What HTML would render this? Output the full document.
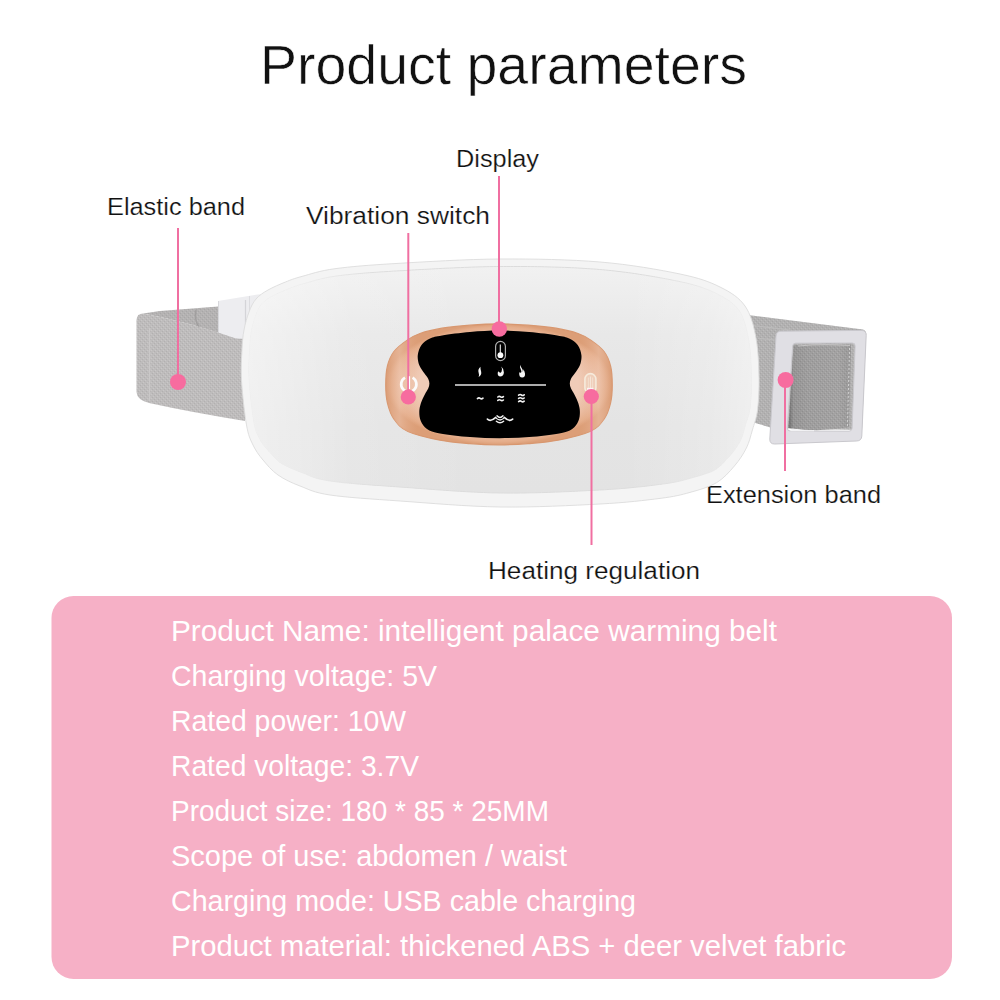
<!DOCTYPE html>
<html><head><meta charset="utf-8">
<style>
html,body{margin:0;padding:0;background:#fff;width:1000px;height:1000px;overflow:hidden}
svg{display:block}
text{font-family:"Liberation Sans",sans-serif}
</style></head><body>
<svg width="1000" height="1000" viewBox="0 0 1000 1000">
<defs>
  <linearGradient id="faceG" x1="0" y1="0" x2="0" y2="1">
    <stop offset="0" stop-color="#f1f1f1"/>
    <stop offset="0.3" stop-color="#e8e8e8"/>
    <stop offset="0.7" stop-color="#e4e4e4"/>
    <stop offset="1" stop-color="#e3e3e3"/>
  </linearGradient>
  <linearGradient id="rimS" x1="0" y1="0" x2="1" y2="0">
    <stop offset="0" stop-color="#dcdcdc" stop-opacity="0.15"/>
    <stop offset="0.1" stop-color="#dcdcdc" stop-opacity="0.25"/>
    <stop offset="0.25" stop-color="#dcdcdc" stop-opacity="1"/>
    <stop offset="0.8" stop-color="#dcdcdc" stop-opacity="1"/>
    <stop offset="0.93" stop-color="#dcdcdc" stop-opacity="0.3"/>
    <stop offset="1" stop-color="#dcdcdc" stop-opacity="0.2"/>
  </linearGradient>
  <linearGradient id="faceH" x1="0" y1="0" x2="1" y2="0">
    <stop offset="0" stop-color="#fff" stop-opacity="0.45"/>
    <stop offset="0.2" stop-color="#fff" stop-opacity="0.12"/>
    <stop offset="0.45" stop-color="#fff" stop-opacity="0"/>
    <stop offset="0.75" stop-color="#fff" stop-opacity="0"/>
    <stop offset="0.92" stop-color="#fff" stop-opacity="0.2"/>
    <stop offset="1" stop-color="#fff" stop-opacity="0.4"/>
  </linearGradient>
  <radialGradient id="copperG" cx="0.5" cy="0.5" r="0.5">
    <stop offset="0.7" stop-color="#f0ccb8"/>
    <stop offset="0.84" stop-color="#ebbea4"/>
    <stop offset="0.95" stop-color="#e5ad8a"/>
    <stop offset="1" stop-color="#dc9e77"/>
  </radialGradient>
  <linearGradient id="copperH" x1="0" y1="0" x2="1" y2="0">
    <stop offset="0" stop-color="#d99b74" stop-opacity="0.5"/>
    <stop offset="0.06" stop-color="#f3d2c0" stop-opacity="0.4"/>
    <stop offset="0.14" stop-color="#e8b496" stop-opacity="0"/>
    <stop offset="0.86" stop-color="#e8b496" stop-opacity="0"/>
    <stop offset="0.94" stop-color="#f3d2c0" stop-opacity="0.4"/>
    <stop offset="1" stop-color="#d99b74" stop-opacity="0.5"/>
  </linearGradient>
  <pattern id="knit" width="4" height="4" patternUnits="userSpaceOnUse">
    <rect width="4" height="4" fill="#bebcbc"/>
    <rect x="0" y="1" width="1" height="1" fill="#b2b0b0"/>
    <rect x="2" y="3" width="1" height="1" fill="#b2b0b0"/>
    <rect x="1" y="0" width="1" height="1" fill="#c9c7c7"/>
    <rect x="3" y="2" width="1" height="1" fill="#c9c7c7"/>
  </pattern>
  <pattern id="knit2" width="4" height="4" patternUnits="userSpaceOnUse">
    <rect width="4" height="4" fill="#aaa9a9"/>
    <rect x="0" y="1" width="1" height="1" fill="#9d9c9c"/>
    <rect x="2" y="3" width="1" height="1" fill="#9d9c9c"/>
    <rect x="1" y="0" width="1" height="1" fill="#b7b6b6"/>
    <rect x="3" y="2" width="1" height="1" fill="#b7b6b6"/>
  </pattern>
</defs>
<rect width="1000" height="1000" fill="#fff"/>

<!-- title -->
<text x="260" y="84" font-size="56" fill="#111" stroke="#fff" stroke-width="0.6" textLength="487" lengthAdjust="spacingAndGlyphs">Product parameters</text>

<!-- labels -->
<g fill="#111" font-size="24.7" stroke="#fff" stroke-width="0.2">
<text x="107" y="215" textLength="138" lengthAdjust="spacingAndGlyphs">Elastic band</text>
<text x="456" y="167" textLength="83" lengthAdjust="spacingAndGlyphs">Display</text>
<text x="306" y="223.5" textLength="184" lengthAdjust="spacingAndGlyphs">Vibration switch</text>
<text x="706" y="502.6" textLength="175" lengthAdjust="spacingAndGlyphs">Extension band</text>
<text x="488" y="578.6" textLength="212" lengthAdjust="spacingAndGlyphs">Heating regulation</text>
</g>

<!-- left band back -->
<path d="M143,313.6 L160,311 L231,305.5 L243,306 L245,342 Q190,322 143,313.6 Z" fill="url(#knit)"/>
<path d="M143,313.6 L160,311 L231,305.5 L243,306 L245,342 Q190,322 143,313.6 Z" fill="#000" fill-opacity="0.05"/>
<path d="M196,310 Q194,320 199,327" stroke="#a19f9f" stroke-width="1.5" fill="none"/>
<!-- left clip -->
<path d="M218,301 L257.8,294.4 L275,293 L275,340 L218,338 Z" fill="#ededf0"/>
<line x1="218.5" y1="301" x2="218.5" y2="338" stroke="#d8d8dc" stroke-width="1"/>
<line x1="245.5" y1="300" x2="245.5" y2="340" stroke="#d4d4d8" stroke-width="1.2"/>
<line x1="249.5" y1="296" x2="249.5" y2="340" stroke="#dcdce0" stroke-width="1"/>
<!-- left band front -->
<path d="M143,313.6 Q190,322 245,341.6 L245,421 Q190,412 149,403 Q137,400 136.5,392 L136.5,320 Q137,313.6 143,313.6 Z" fill="url(#knit)"/>
<line x1="149.5" y1="328" x2="149.5" y2="401" stroke="#cac8c8" stroke-width="1.5"/>

<!-- right band -->
<path d="M749.6,315.2 L863,329.6 Q867,331 866,336 L862,430 L772,428 L752,422 Z" fill="url(#knit2)"/>
<path d="M749.6,315.2 L863,329.6 Q867,331 866,336 L862,430 L772,428 L752,422 Z" fill="#fff" fill-opacity="0.1"/>
<line x1="752" y1="325.5" x2="790" y2="330" stroke="#bcbbbb" stroke-width="1.2"/>
<line x1="758" y1="338.4" x2="776" y2="340" stroke="#bcbbbb" stroke-width="1.2"/>

<!-- body -->
<path d="M241.5,380.0 C240.8,367.5 241.6,358.3 242.0,350.0 C242.4,341.7 242.8,336.3 244.0,330.0 C245.2,323.7 247.0,317.2 249.0,312.0 C251.0,306.8 252.8,302.7 256.0,299.0 C259.2,295.3 263.1,292.8 268.0,290.0 C272.9,287.2 279.8,284.3 285.5,282.0 C291.2,279.7 293.8,278.6 302.0,276.4 C310.2,274.2 319.3,270.8 335.0,268.7 C350.7,266.6 368.5,265.1 396.0,263.5 C423.5,261.9 466.0,259.2 500.0,259.0 C534.0,258.8 570.0,259.5 600.0,262.0 C630.0,264.5 660.0,269.8 680.0,274.0 C700.0,278.2 709.2,281.7 720.0,287.0 C730.8,292.3 739.0,297.5 745.0,306.0 C751.0,314.5 753.7,326.0 756.0,338.0 C758.3,350.0 758.8,366.0 759.0,378.0 C759.2,390.0 758.6,401.3 757.5,410.0 C756.4,418.7 754.2,423.7 752.4,430.0 C750.5,436.3 749.4,442.0 746.4,448.0 C743.4,454.0 739.4,460.2 734.4,466.0 C729.4,471.8 723.8,478.4 716.4,482.8 C709.0,487.2 699.4,489.8 690.0,492.4 C680.6,495.0 675.0,496.5 660.0,498.4 C645.0,500.3 626.7,502.6 600.0,504.0 C573.3,505.4 533.3,507.5 500.0,507.0 C466.7,506.5 428.3,503.0 400.0,501.0 C371.7,499.0 346.7,497.5 330.0,495.0 C313.3,492.5 308.7,489.3 300.0,486.0 C291.3,482.7 284.2,479.3 278.0,475.0 C271.8,470.7 267.2,465.0 263.0,460.0 C258.8,455.0 255.8,450.8 253.0,445.0 C250.2,439.2 248.4,435.8 246.5,425.0 C244.6,414.2 242.2,392.5 241.5,380.0Z" fill="#f4f4f4" stroke="#dddddd" stroke-width="0.9"/>
<path d="M249.0,379.6 L248.9,378.4 L248.9,377.2 L248.8,376.1 L248.8,374.9 L248.7,373.8 L248.7,372.7 L248.7,371.7 L248.7,370.6 L248.7,369.6 L248.7,368.6 L248.7,367.6 L248.7,366.6 L248.8,365.6 L248.8,364.6 L248.8,363.7 L248.8,362.8 L248.9,361.8 L248.9,360.9 L249.0,360.0 L249.0,359.1 L249.1,358.2 L249.1,357.3 L249.2,356.4 L249.2,355.5 L249.3,354.7 L249.3,353.8 L249.4,352.9 L249.4,352.1 L249.4,351.2 L249.5,350.4 L249.5,349.6 L249.6,348.8 L249.6,348.0 L249.7,347.2 L249.7,346.5 L249.7,345.8 L249.8,345.1 L249.8,344.4 L249.9,343.7 L249.9,343.1 L250.0,342.4 L250.0,341.8 L250.1,341.2 L250.1,340.6 L250.2,340.0 L250.2,339.4 L250.3,338.8 L250.4,338.2 L250.4,337.6 L250.5,337.1 L250.6,336.5 L250.6,335.9 L250.7,335.4 L250.8,334.8 L250.9,334.2 L251.0,333.7 L251.1,333.1 L251.2,332.5 L251.3,331.9 L251.4,331.4 L251.5,330.8 L251.6,330.2 L251.7,329.6 L251.8,329.0 L252.0,328.4 L252.1,327.8 L252.2,327.2 L252.4,326.6 L252.5,326.1 L252.7,325.5 L252.8,324.9 L252.9,324.3 L253.1,323.7 L253.3,323.1 L253.4,322.6 L253.6,322.0 L253.7,321.4 L253.9,320.9 L254.1,320.3 L254.2,319.8 L254.4,319.2 L254.6,318.7 L254.8,318.2 L254.9,317.7 L255.1,317.1 L255.3,316.6 L255.5,316.1 L255.6,315.7 L255.8,315.2 L256.0,314.7 L256.2,314.2 L256.4,313.7 L256.6,313.3 L256.7,312.8 L256.9,312.3 L257.1,311.9 L257.3,311.5 L257.5,311.0 L257.7,310.6 L257.8,310.2 L258.0,309.8 L258.2,309.5 L258.4,309.1 L258.6,308.7 L258.7,308.4 L258.9,308.0 L259.1,307.7 L259.3,307.4 L259.5,307.0 L259.6,306.7 L259.8,306.4 L260.0,306.1 L260.2,305.8 L260.4,305.5 L260.6,305.3 L260.8,305.0 L261.0,304.7 L261.2,304.4 L261.5,304.2 L261.7,303.9 L261.9,303.6 L262.1,303.4 L262.4,303.1 L262.6,302.9 L262.9,302.6 L263.1,302.4 L263.4,302.2 L263.7,301.9 L263.9,301.7 L264.2,301.4 L264.5,301.2 L264.8,301.0 L265.1,300.7 L265.4,300.5 L265.7,300.3 L266.1,300.0 L266.4,299.8 L266.8,299.6 L267.1,299.3 L267.5,299.1 L267.9,298.8 L268.3,298.6 L268.7,298.3 L269.1,298.1 L269.5,297.8 L269.9,297.6 L270.4,297.3 L270.8,297.0 L271.3,296.8 L271.7,296.5 L272.2,296.3 L272.6,296.0 L273.1,295.8 L273.6,295.5 L274.1,295.2 L274.6,295.0 L275.1,294.7 L275.6,294.5 L276.1,294.2 L276.7,293.9 L277.2,293.7 L277.8,293.4 L278.4,293.2 L278.9,292.9 L279.5,292.6 L280.1,292.4 L280.7,292.1 L281.3,291.9 L281.9,291.6 L282.5,291.4 L283.1,291.1 L283.7,290.9 L284.2,290.6 L284.8,290.4 L285.4,290.1 L286.0,289.9 L286.6,289.6 L287.2,289.4 L287.7,289.2 L288.3,289.0 L288.8,288.7 L289.4,288.5 L289.9,288.3 L290.4,288.1 L290.9,287.9 L291.4,287.7 L291.8,287.6 L292.3,287.4 L292.7,287.2 L293.1,287.0 L293.6,286.9 L294.0,286.7 L294.4,286.6 L294.8,286.4 L295.3,286.3 L295.7,286.1 L296.2,285.9 L296.6,285.8 L297.1,285.6 L297.6,285.5 L298.1,285.3 L298.6,285.2 L299.2,285.0 L299.8,284.8 L300.4,284.6 L301.0,284.4 L301.7,284.3 L302.4,284.1 L303.2,283.9 L304.0,283.6 L304.8,283.4 L305.7,283.2 L306.6,282.9 L307.4,282.7 L308.3,282.4 L309.2,282.2 L310.1,281.9 L311.0,281.6 L311.9,281.4 L312.8,281.1 L313.7,280.8 L314.7,280.6 L315.6,280.3 L316.6,280.0 L317.6,279.8 L318.6,279.5 L319.7,279.3 L320.7,279.0 L321.8,278.7 L323.0,278.5 L324.1,278.2 L325.3,278.0 L326.5,277.7 L327.7,277.5 L329.0,277.2 L330.3,277.0 L331.7,276.8 L333.1,276.6 L334.5,276.3 L336.0,276.1 L337.6,275.9 L339.1,275.7 L340.7,275.5 L342.3,275.3 L343.9,275.1 L345.6,274.9 L347.2,274.8 L348.9,274.6 L350.6,274.4 L352.4,274.2 L354.2,274.0 L356.0,273.9 L357.9,273.7 L359.8,273.5 L361.7,273.4 L363.7,273.2 L365.7,273.0 L367.7,272.9 L369.8,272.7 L372.0,272.6 L374.2,272.4 L376.4,272.3 L378.7,272.1 L381.1,271.9 L383.5,271.8 L386.0,271.6 L388.5,271.5 L391.1,271.3 L393.7,271.1 L396.4,271.0 L399.2,270.8 L402.1,270.7 L405.1,270.5 L408.2,270.3 L411.3,270.1 L414.5,269.9 L417.8,269.7 L421.2,269.5 L424.6,269.4 L428.0,269.2 L431.5,269.0 L435.1,268.8 L438.7,268.6 L442.3,268.4 L445.9,268.2 L449.6,268.1 L453.3,267.9 L457.0,267.7 L460.6,267.6 L464.3,267.4 L468.0,267.3 L471.7,267.1 L475.4,267.0 L479.0,266.9 L482.6,266.8 L486.2,266.7 L489.7,266.6 L493.2,266.6 L496.7,266.5 L500.1,266.5 L503.4,266.5 L506.8,266.5 L510.3,266.5 L513.7,266.5 L517.1,266.5 L520.5,266.5 L524.0,266.5 L527.4,266.5 L530.8,266.6 L534.3,266.6 L537.7,266.7 L541.1,266.7 L544.5,266.8 L547.9,266.9 L551.3,267.0 L554.7,267.1 L558.0,267.2 L561.4,267.3 L564.7,267.4 L568.0,267.5 L571.3,267.7 L574.5,267.8 L577.7,268.0 L580.9,268.2 L584.1,268.4 L587.2,268.6 L590.3,268.8 L593.4,269.0 L596.4,269.2 L599.4,269.5 L602.3,269.7 L605.3,270.0 L608.2,270.3 L611.2,270.6 L614.1,270.9 L617.0,271.3 L620.0,271.6 L622.9,272.0 L625.7,272.3 L628.6,272.7 L631.5,273.1 L634.3,273.5 L637.1,273.9 L639.8,274.4 L642.6,274.8 L645.3,275.2 L648.0,275.7 L650.6,276.1 L653.2,276.5 L655.7,277.0 L658.2,277.4 L660.7,277.9 L663.1,278.3 L665.5,278.8 L667.8,279.2 L670.0,279.6 L672.2,280.1 L674.4,280.5 L676.5,280.9 L678.5,281.3 L680.4,281.7 L682.2,282.2 L684.0,282.5 L685.8,282.9 L687.4,283.3 L689.0,283.7 L690.5,284.1 L692.0,284.5 L693.4,284.9 L694.8,285.3 L696.1,285.6 L697.4,286.0 L698.7,286.4 L699.9,286.8 L701.1,287.2 L702.2,287.6 L703.3,288.0 L704.4,288.4 L705.5,288.8 L706.5,289.2 L707.5,289.6 L708.6,290.0 L709.6,290.4 L710.6,290.9 L711.6,291.3 L712.6,291.8 L713.6,292.2 L714.6,292.7 L715.6,293.2 L716.7,293.7 L717.7,294.2 L718.7,294.8 L719.7,295.3 L720.7,295.8 L721.6,296.3 L722.6,296.8 L723.5,297.3 L724.3,297.8 L725.2,298.3 L726.0,298.8 L726.8,299.3 L727.6,299.8 L728.4,300.3 L729.2,300.8 L729.9,301.4 L730.6,301.9 L731.3,302.4 L732.0,303.0 L732.6,303.5 L733.3,304.1 L733.9,304.7 L734.5,305.2 L735.1,305.8 L735.7,306.4 L736.2,307.0 L736.8,307.7 L737.3,308.3 L737.9,309.0 L738.4,309.6 L738.9,310.3 L739.3,311.0 L739.8,311.7 L740.2,312.5 L740.7,313.2 L741.1,314.0 L741.5,314.8 L741.9,315.6 L742.3,316.5 L742.7,317.3 L743.0,318.2 L743.4,319.1 L743.7,320.0 L744.1,321.0 L744.4,322.0 L744.7,322.9 L745.0,323.9 L745.3,325.0 L745.6,326.0 L745.9,327.0 L746.2,328.1 L746.4,329.2 L746.7,330.3 L747.0,331.4 L747.2,332.5 L747.5,333.6 L747.7,334.8 L747.9,335.9 L748.2,337.1 L748.4,338.3 L748.6,339.4 L748.8,340.5 L749.0,341.7 L749.2,342.9 L749.4,344.1 L749.6,345.3 L749.7,346.5 L749.9,347.8 L750.0,349.1 L750.2,350.4 L750.3,351.7 L750.4,353.0 L750.5,354.4 L750.6,355.7 L750.7,357.1 L750.8,358.5 L750.9,359.8 L750.9,361.2 L751.0,362.5 L751.1,363.9 L751.1,365.3 L751.2,366.6 L751.2,368.0 L751.3,369.3 L751.3,370.6 L751.4,371.9 L751.4,373.2 L751.4,374.5 L751.4,375.7 L751.5,376.9 L751.5,378.1 L751.5,379.3 L751.5,380.5 L751.5,381.6 L751.6,382.8 L751.6,383.9 L751.5,385.0 L751.5,386.2 L751.5,387.3 L751.5,388.4 L751.5,389.5 L751.4,390.6 L751.4,391.7 L751.4,392.8 L751.3,393.8 L751.2,394.9 L751.2,395.9 L751.1,397.0 L751.1,398.0 L751.0,399.0 L750.9,400.0 L750.8,400.9 L750.8,401.9 L750.7,402.9 L750.6,403.8 L750.5,404.7 L750.4,405.6 L750.3,406.5 L750.2,407.4 L750.1,408.2 L750.0,409.0 L749.8,409.8 L749.7,410.5 L749.6,411.3 L749.4,412.0 L749.3,412.6 L749.1,413.3 L749.0,413.9 L748.8,414.6 L748.6,415.2 L748.5,415.8 L748.3,416.4 L748.1,416.9 L747.9,417.5 L747.7,418.1 L747.5,418.6 L747.4,419.2 L747.2,419.8 L747.0,420.3 L746.8,420.9 L746.6,421.5 L746.4,422.1 L746.2,422.7 L746.0,423.3 L745.8,423.9 L745.6,424.5 L745.4,425.1 L745.3,425.7 L745.1,426.4 L744.9,427.1 L744.7,427.8 L744.5,428.4 L744.4,429.1 L744.2,429.7 L744.0,430.4 L743.8,431.0 L743.7,431.6 L743.5,432.2 L743.3,432.8 L743.2,433.4 L743.0,434.0 L742.8,434.6 L742.7,435.2 L742.5,435.7 L742.3,436.3 L742.1,436.8 L741.9,437.3 L741.7,437.9 L741.5,438.4 L741.3,438.9 L741.1,439.4 L740.9,439.9 L740.7,440.4 L740.4,440.8 L740.2,441.3 L739.9,441.8 L739.7,442.2 L739.4,442.7 L739.1,443.2 L738.8,443.6 L738.5,444.1 L738.2,444.6 L737.9,445.1 L737.6,445.6 L737.3,446.1 L736.9,446.7 L736.6,447.2 L736.2,447.7 L735.9,448.2 L735.5,448.7 L735.2,449.3 L734.8,449.8 L734.4,450.3 L734.0,450.8 L733.6,451.3 L733.2,451.8 L732.8,452.4 L732.4,452.9 L732.0,453.4 L731.6,453.9 L731.2,454.4 L730.7,454.9 L730.3,455.4 L729.9,455.9 L729.4,456.4 L729.0,456.9 L728.5,457.4 L728.0,457.9 L727.6,458.3 L727.1,458.8 L726.6,459.3 L726.1,459.9 L725.6,460.5 L725.1,461.0 L724.6,461.6 L724.1,462.2 L723.6,462.7 L723.0,463.3 L722.5,463.8 L722.0,464.3 L721.4,464.8 L720.9,465.4 L720.4,465.9 L719.8,466.3 L719.3,466.8 L718.7,467.3 L718.2,467.7 L717.6,468.1 L717.0,468.6 L716.5,469.0 L715.9,469.4 L715.3,469.7 L714.7,470.1 L714.2,470.4 L713.6,470.7 L713.0,471.0 L712.4,471.3 L711.8,471.6 L711.3,471.8 L710.7,472.0 L710.1,472.2 L709.5,472.4 L708.9,472.7 L708.3,472.9 L707.7,473.1 L707.0,473.3 L706.4,473.5 L705.7,473.8 L705.0,474.0 L704.3,474.2 L703.5,474.5 L702.8,474.7 L702.0,474.9 L701.3,475.2 L700.5,475.4 L699.7,475.7 L698.9,475.9 L698.0,476.1 L697.2,476.4 L696.3,476.6 L695.5,476.9 L694.6,477.1 L693.7,477.3 L692.8,477.6 L691.9,477.8 L691.0,478.1 L690.1,478.3 L689.2,478.6 L688.3,478.8 L687.3,479.1 L686.4,479.4 L685.5,479.6 L684.6,479.8 L683.7,480.1 L682.9,480.3 L682.1,480.5 L681.3,480.7 L680.5,480.9 L679.7,481.1 L678.9,481.3 L678.2,481.4 L677.4,481.6 L676.6,481.8 L675.9,481.9 L675.1,482.1 L674.3,482.2 L673.5,482.4 L672.6,482.5 L671.8,482.7 L670.9,482.8 L670.0,483.0 L669.0,483.1 L668.0,483.3 L667.0,483.4 L665.9,483.6 L664.7,483.8 L663.5,483.9 L662.3,484.1 L661.0,484.3 L659.6,484.4 L658.2,484.6 L656.7,484.8 L655.2,485.0 L653.7,485.2 L652.1,485.4 L650.5,485.6 L648.9,485.8 L647.2,486.0 L645.6,486.2 L643.9,486.4 L642.1,486.6 L640.4,486.8 L638.6,486.9 L636.8,487.1 L634.9,487.3 L633.0,487.5 L631.0,487.7 L629.1,487.9 L627.1,488.1 L625.0,488.3 L622.9,488.4 L620.7,488.6 L618.6,488.8 L616.3,489.0 L614.0,489.1 L611.7,489.3 L609.3,489.4 L606.9,489.6 L604.4,489.8 L601.8,489.9 L599.2,490.0 L596.5,490.2 L593.8,490.3 L590.9,490.5 L587.9,490.6 L584.9,490.8 L581.9,490.9 L578.7,491.1 L575.5,491.3 L572.3,491.4 L569.0,491.6 L565.7,491.7 L562.3,491.8 L558.9,492.0 L555.5,492.1 L552.0,492.2 L548.5,492.4 L545.0,492.5 L541.5,492.6 L538.0,492.7 L534.5,492.8 L531.0,492.8 L527.5,492.9 L524.0,493.0 L520.5,493.0 L517.0,493.1 L513.6,493.1 L510.2,493.1 L506.8,493.1 L503.5,493.0 L500.2,493.0 L496.9,492.9 L493.6,492.9 L490.3,492.8 L486.9,492.7 L483.5,492.5 L480.1,492.4 L476.7,492.2 L473.3,492.1 L469.8,491.9 L466.4,491.7 L462.9,491.5 L459.4,491.3 L456.0,491.1 L452.5,490.9 L449.1,490.6 L445.7,490.4 L442.2,490.1 L438.9,489.9 L435.5,489.7 L432.2,489.4 L428.8,489.2 L425.6,488.9 L422.3,488.7 L419.1,488.4 L416.0,488.2 L412.9,487.9 L409.8,487.7 L406.8,487.5 L403.9,487.3 L401.0,487.1 L398.2,486.9 L395.3,486.7 L392.6,486.5 L389.8,486.3 L387.1,486.1 L384.4,485.9 L381.7,485.7 L379.1,485.5 L376.5,485.4 L374.0,485.2 L371.4,485.0 L369.0,484.8 L366.5,484.6 L364.1,484.5 L361.7,484.3 L359.4,484.1 L357.1,483.9 L354.9,483.7 L352.7,483.5 L350.5,483.3 L348.4,483.1 L346.4,482.9 L344.4,482.8 L342.5,482.6 L340.6,482.3 L338.8,482.1 L337.0,481.9 L335.3,481.7 L333.6,481.5 L332.1,481.3 L330.6,481.1 L329.1,480.9 L327.8,480.7 L326.6,480.5 L325.4,480.2 L324.2,480.0 L323.2,479.8 L322.2,479.6 L321.2,479.4 L320.3,479.2 L319.5,479.1 L318.7,478.9 L317.9,478.7 L317.1,478.5 L316.4,478.3 L315.7,478.1 L315.0,477.9 L314.3,477.6 L313.6,477.4 L312.9,477.1 L312.1,476.9 L311.4,476.6 L310.7,476.3 L309.9,476.0 L309.1,475.6 L308.3,475.3 L307.5,474.9 L306.6,474.5 L305.7,474.1 L304.8,473.7 L303.9,473.4 L303.1,473.1 L302.3,472.8 L301.5,472.5 L300.8,472.2 L300.0,472.0 L299.2,471.7 L298.5,471.4 L297.8,471.1 L297.1,470.8 L296.4,470.6 L295.7,470.3 L295.0,470.0 L294.3,469.7 L293.7,469.4 L293.0,469.2 L292.4,468.9 L291.8,468.6 L291.1,468.4 L290.5,468.1 L289.9,467.8 L289.3,467.5 L288.7,467.3 L288.2,467.0 L287.6,466.7 L287.0,466.4 L286.5,466.2 L285.9,465.9 L285.4,465.6 L284.8,465.3 L284.3,465.1 L283.8,464.8 L283.3,464.6 L282.8,464.3 L282.3,464.0 L281.8,463.7 L281.3,463.4 L280.8,463.1 L280.3,462.7 L279.8,462.4 L279.3,462.0 L278.8,461.6 L278.4,461.2 L277.9,460.9 L277.4,460.4 L277.0,460.0 L276.5,459.6 L276.0,459.2 L275.6,458.7 L275.1,458.3 L274.7,457.8 L274.2,457.4 L273.8,456.9 L273.4,456.4 L272.9,456.0 L272.5,455.5 L272.1,455.0 L271.6,454.5 L271.2,454.0 L270.8,453.5 L270.4,453.0 L270.0,452.6 L269.6,452.1 L269.2,451.7 L268.8,451.3 L268.5,450.9 L268.1,450.5 L267.7,450.1 L267.4,449.7 L267.0,449.3 L266.7,448.9 L266.4,448.5 L266.0,448.2 L265.7,447.8 L265.4,447.4 L265.0,447.0 L264.7,446.7 L264.4,446.3 L264.1,445.9 L263.8,445.5 L263.5,445.2 L263.2,444.8 L262.9,444.4 L262.6,444.0 L262.3,443.5 L262.0,443.1 L261.7,442.7 L261.4,442.2 L261.1,441.8 L260.9,441.3 L260.6,440.7 L260.3,440.1 L260.1,439.6 L259.8,439.1 L259.5,438.6 L259.3,438.1 L259.1,437.6 L258.8,437.2 L258.6,436.7 L258.3,436.3 L258.1,435.9 L257.9,435.4 L257.6,435.0 L257.4,434.6 L257.2,434.1 L257.0,433.6 L256.8,433.1 L256.5,432.6 L256.3,432.1 L256.1,431.5 L255.9,430.9 L255.7,430.3 L255.5,429.6 L255.3,428.9 L255.1,428.1 L254.9,427.3 L254.7,426.5 L254.5,425.6 L254.3,424.7 L254.1,423.7 L253.9,422.6 L253.7,421.5 L253.5,420.3 L253.3,419.0 L253.1,417.7 L252.9,416.3 L252.7,414.9 L252.5,413.4 L252.3,411.9 L252.1,410.4 L251.9,408.8 L251.7,407.2 L251.5,405.6 L251.3,403.9 L251.1,402.3 L250.9,400.6 L250.7,399.0 L250.6,397.4 L250.4,395.7 L250.2,394.1 L250.1,392.5 L249.9,390.9 L249.8,389.3 L249.6,387.8 L249.5,386.3 L249.4,384.9 L249.3,383.4 L249.2,382.1 L249.1,380.8Z" fill="url(#faceG)" stroke="url(#rimS)" stroke-width="1"/>
<path d="M249.0,379.6 L248.9,378.4 L248.9,377.2 L248.8,376.1 L248.8,374.9 L248.7,373.8 L248.7,372.7 L248.7,371.7 L248.7,370.6 L248.7,369.6 L248.7,368.6 L248.7,367.6 L248.7,366.6 L248.8,365.6 L248.8,364.6 L248.8,363.7 L248.8,362.8 L248.9,361.8 L248.9,360.9 L249.0,360.0 L249.0,359.1 L249.1,358.2 L249.1,357.3 L249.2,356.4 L249.2,355.5 L249.3,354.7 L249.3,353.8 L249.4,352.9 L249.4,352.1 L249.4,351.2 L249.5,350.4 L249.5,349.6 L249.6,348.8 L249.6,348.0 L249.7,347.2 L249.7,346.5 L249.7,345.8 L249.8,345.1 L249.8,344.4 L249.9,343.7 L249.9,343.1 L250.0,342.4 L250.0,341.8 L250.1,341.2 L250.1,340.6 L250.2,340.0 L250.2,339.4 L250.3,338.8 L250.4,338.2 L250.4,337.6 L250.5,337.1 L250.6,336.5 L250.6,335.9 L250.7,335.4 L250.8,334.8 L250.9,334.2 L251.0,333.7 L251.1,333.1 L251.2,332.5 L251.3,331.9 L251.4,331.4 L251.5,330.8 L251.6,330.2 L251.7,329.6 L251.8,329.0 L252.0,328.4 L252.1,327.8 L252.2,327.2 L252.4,326.6 L252.5,326.1 L252.7,325.5 L252.8,324.9 L252.9,324.3 L253.1,323.7 L253.3,323.1 L253.4,322.6 L253.6,322.0 L253.7,321.4 L253.9,320.9 L254.1,320.3 L254.2,319.8 L254.4,319.2 L254.6,318.7 L254.8,318.2 L254.9,317.7 L255.1,317.1 L255.3,316.6 L255.5,316.1 L255.6,315.7 L255.8,315.2 L256.0,314.7 L256.2,314.2 L256.4,313.7 L256.6,313.3 L256.7,312.8 L256.9,312.3 L257.1,311.9 L257.3,311.5 L257.5,311.0 L257.7,310.6 L257.8,310.2 L258.0,309.8 L258.2,309.5 L258.4,309.1 L258.6,308.7 L258.7,308.4 L258.9,308.0 L259.1,307.7 L259.3,307.4 L259.5,307.0 L259.6,306.7 L259.8,306.4 L260.0,306.1 L260.2,305.8 L260.4,305.5 L260.6,305.3 L260.8,305.0 L261.0,304.7 L261.2,304.4 L261.5,304.2 L261.7,303.9 L261.9,303.6 L262.1,303.4 L262.4,303.1 L262.6,302.9 L262.9,302.6 L263.1,302.4 L263.4,302.2 L263.7,301.9 L263.9,301.7 L264.2,301.4 L264.5,301.2 L264.8,301.0 L265.1,300.7 L265.4,300.5 L265.7,300.3 L266.1,300.0 L266.4,299.8 L266.8,299.6 L267.1,299.3 L267.5,299.1 L267.9,298.8 L268.3,298.6 L268.7,298.3 L269.1,298.1 L269.5,297.8 L269.9,297.6 L270.4,297.3 L270.8,297.0 L271.3,296.8 L271.7,296.5 L272.2,296.3 L272.6,296.0 L273.1,295.8 L273.6,295.5 L274.1,295.2 L274.6,295.0 L275.1,294.7 L275.6,294.5 L276.1,294.2 L276.7,293.9 L277.2,293.7 L277.8,293.4 L278.4,293.2 L278.9,292.9 L279.5,292.6 L280.1,292.4 L280.7,292.1 L281.3,291.9 L281.9,291.6 L282.5,291.4 L283.1,291.1 L283.7,290.9 L284.2,290.6 L284.8,290.4 L285.4,290.1 L286.0,289.9 L286.6,289.6 L287.2,289.4 L287.7,289.2 L288.3,289.0 L288.8,288.7 L289.4,288.5 L289.9,288.3 L290.4,288.1 L290.9,287.9 L291.4,287.7 L291.8,287.6 L292.3,287.4 L292.7,287.2 L293.1,287.0 L293.6,286.9 L294.0,286.7 L294.4,286.6 L294.8,286.4 L295.3,286.3 L295.7,286.1 L296.2,285.9 L296.6,285.8 L297.1,285.6 L297.6,285.5 L298.1,285.3 L298.6,285.2 L299.2,285.0 L299.8,284.8 L300.4,284.6 L301.0,284.4 L301.7,284.3 L302.4,284.1 L303.2,283.9 L304.0,283.6 L304.8,283.4 L305.7,283.2 L306.6,282.9 L307.4,282.7 L308.3,282.4 L309.2,282.2 L310.1,281.9 L311.0,281.6 L311.9,281.4 L312.8,281.1 L313.7,280.8 L314.7,280.6 L315.6,280.3 L316.6,280.0 L317.6,279.8 L318.6,279.5 L319.7,279.3 L320.7,279.0 L321.8,278.7 L323.0,278.5 L324.1,278.2 L325.3,278.0 L326.5,277.7 L327.7,277.5 L329.0,277.2 L330.3,277.0 L331.7,276.8 L333.1,276.6 L334.5,276.3 L336.0,276.1 L337.6,275.9 L339.1,275.7 L340.7,275.5 L342.3,275.3 L343.9,275.1 L345.6,274.9 L347.2,274.8 L348.9,274.6 L350.6,274.4 L352.4,274.2 L354.2,274.0 L356.0,273.9 L357.9,273.7 L359.8,273.5 L361.7,273.4 L363.7,273.2 L365.7,273.0 L367.7,272.9 L369.8,272.7 L372.0,272.6 L374.2,272.4 L376.4,272.3 L378.7,272.1 L381.1,271.9 L383.5,271.8 L386.0,271.6 L388.5,271.5 L391.1,271.3 L393.7,271.1 L396.4,271.0 L399.2,270.8 L402.1,270.7 L405.1,270.5 L408.2,270.3 L411.3,270.1 L414.5,269.9 L417.8,269.7 L421.2,269.5 L424.6,269.4 L428.0,269.2 L431.5,269.0 L435.1,268.8 L438.7,268.6 L442.3,268.4 L445.9,268.2 L449.6,268.1 L453.3,267.9 L457.0,267.7 L460.6,267.6 L464.3,267.4 L468.0,267.3 L471.7,267.1 L475.4,267.0 L479.0,266.9 L482.6,266.8 L486.2,266.7 L489.7,266.6 L493.2,266.6 L496.7,266.5 L500.1,266.5 L503.4,266.5 L506.8,266.5 L510.3,266.5 L513.7,266.5 L517.1,266.5 L520.5,266.5 L524.0,266.5 L527.4,266.5 L530.8,266.6 L534.3,266.6 L537.7,266.7 L541.1,266.7 L544.5,266.8 L547.9,266.9 L551.3,267.0 L554.7,267.1 L558.0,267.2 L561.4,267.3 L564.7,267.4 L568.0,267.5 L571.3,267.7 L574.5,267.8 L577.7,268.0 L580.9,268.2 L584.1,268.4 L587.2,268.6 L590.3,268.8 L593.4,269.0 L596.4,269.2 L599.4,269.5 L602.3,269.7 L605.3,270.0 L608.2,270.3 L611.2,270.6 L614.1,270.9 L617.0,271.3 L620.0,271.6 L622.9,272.0 L625.7,272.3 L628.6,272.7 L631.5,273.1 L634.3,273.5 L637.1,273.9 L639.8,274.4 L642.6,274.8 L645.3,275.2 L648.0,275.7 L650.6,276.1 L653.2,276.5 L655.7,277.0 L658.2,277.4 L660.7,277.9 L663.1,278.3 L665.5,278.8 L667.8,279.2 L670.0,279.6 L672.2,280.1 L674.4,280.5 L676.5,280.9 L678.5,281.3 L680.4,281.7 L682.2,282.2 L684.0,282.5 L685.8,282.9 L687.4,283.3 L689.0,283.7 L690.5,284.1 L692.0,284.5 L693.4,284.9 L694.8,285.3 L696.1,285.6 L697.4,286.0 L698.7,286.4 L699.9,286.8 L701.1,287.2 L702.2,287.6 L703.3,288.0 L704.4,288.4 L705.5,288.8 L706.5,289.2 L707.5,289.6 L708.6,290.0 L709.6,290.4 L710.6,290.9 L711.6,291.3 L712.6,291.8 L713.6,292.2 L714.6,292.7 L715.6,293.2 L716.7,293.7 L717.7,294.2 L718.7,294.8 L719.7,295.3 L720.7,295.8 L721.6,296.3 L722.6,296.8 L723.5,297.3 L724.3,297.8 L725.2,298.3 L726.0,298.8 L726.8,299.3 L727.6,299.8 L728.4,300.3 L729.2,300.8 L729.9,301.4 L730.6,301.9 L731.3,302.4 L732.0,303.0 L732.6,303.5 L733.3,304.1 L733.9,304.7 L734.5,305.2 L735.1,305.8 L735.7,306.4 L736.2,307.0 L736.8,307.7 L737.3,308.3 L737.9,309.0 L738.4,309.6 L738.9,310.3 L739.3,311.0 L739.8,311.7 L740.2,312.5 L740.7,313.2 L741.1,314.0 L741.5,314.8 L741.9,315.6 L742.3,316.5 L742.7,317.3 L743.0,318.2 L743.4,319.1 L743.7,320.0 L744.1,321.0 L744.4,322.0 L744.7,322.9 L745.0,323.9 L745.3,325.0 L745.6,326.0 L745.9,327.0 L746.2,328.1 L746.4,329.2 L746.7,330.3 L747.0,331.4 L747.2,332.5 L747.5,333.6 L747.7,334.8 L747.9,335.9 L748.2,337.1 L748.4,338.3 L748.6,339.4 L748.8,340.5 L749.0,341.7 L749.2,342.9 L749.4,344.1 L749.6,345.3 L749.7,346.5 L749.9,347.8 L750.0,349.1 L750.2,350.4 L750.3,351.7 L750.4,353.0 L750.5,354.4 L750.6,355.7 L750.7,357.1 L750.8,358.5 L750.9,359.8 L750.9,361.2 L751.0,362.5 L751.1,363.9 L751.1,365.3 L751.2,366.6 L751.2,368.0 L751.3,369.3 L751.3,370.6 L751.4,371.9 L751.4,373.2 L751.4,374.5 L751.4,375.7 L751.5,376.9 L751.5,378.1 L751.5,379.3 L751.5,380.5 L751.5,381.6 L751.6,382.8 L751.6,383.9 L751.5,385.0 L751.5,386.2 L751.5,387.3 L751.5,388.4 L751.5,389.5 L751.4,390.6 L751.4,391.7 L751.4,392.8 L751.3,393.8 L751.2,394.9 L751.2,395.9 L751.1,397.0 L751.1,398.0 L751.0,399.0 L750.9,400.0 L750.8,400.9 L750.8,401.9 L750.7,402.9 L750.6,403.8 L750.5,404.7 L750.4,405.6 L750.3,406.5 L750.2,407.4 L750.1,408.2 L750.0,409.0 L749.8,409.8 L749.7,410.5 L749.6,411.3 L749.4,412.0 L749.3,412.6 L749.1,413.3 L749.0,413.9 L748.8,414.6 L748.6,415.2 L748.5,415.8 L748.3,416.4 L748.1,416.9 L747.9,417.5 L747.7,418.1 L747.5,418.6 L747.4,419.2 L747.2,419.8 L747.0,420.3 L746.8,420.9 L746.6,421.5 L746.4,422.1 L746.2,422.7 L746.0,423.3 L745.8,423.9 L745.6,424.5 L745.4,425.1 L745.3,425.7 L745.1,426.4 L744.9,427.1 L744.7,427.8 L744.5,428.4 L744.4,429.1 L744.2,429.7 L744.0,430.4 L743.8,431.0 L743.7,431.6 L743.5,432.2 L743.3,432.8 L743.2,433.4 L743.0,434.0 L742.8,434.6 L742.7,435.2 L742.5,435.7 L742.3,436.3 L742.1,436.8 L741.9,437.3 L741.7,437.9 L741.5,438.4 L741.3,438.9 L741.1,439.4 L740.9,439.9 L740.7,440.4 L740.4,440.8 L740.2,441.3 L739.9,441.8 L739.7,442.2 L739.4,442.7 L739.1,443.2 L738.8,443.6 L738.5,444.1 L738.2,444.6 L737.9,445.1 L737.6,445.6 L737.3,446.1 L736.9,446.7 L736.6,447.2 L736.2,447.7 L735.9,448.2 L735.5,448.7 L735.2,449.3 L734.8,449.8 L734.4,450.3 L734.0,450.8 L733.6,451.3 L733.2,451.8 L732.8,452.4 L732.4,452.9 L732.0,453.4 L731.6,453.9 L731.2,454.4 L730.7,454.9 L730.3,455.4 L729.9,455.9 L729.4,456.4 L729.0,456.9 L728.5,457.4 L728.0,457.9 L727.6,458.3 L727.1,458.8 L726.6,459.3 L726.1,459.9 L725.6,460.5 L725.1,461.0 L724.6,461.6 L724.1,462.2 L723.6,462.7 L723.0,463.3 L722.5,463.8 L722.0,464.3 L721.4,464.8 L720.9,465.4 L720.4,465.9 L719.8,466.3 L719.3,466.8 L718.7,467.3 L718.2,467.7 L717.6,468.1 L717.0,468.6 L716.5,469.0 L715.9,469.4 L715.3,469.7 L714.7,470.1 L714.2,470.4 L713.6,470.7 L713.0,471.0 L712.4,471.3 L711.8,471.6 L711.3,471.8 L710.7,472.0 L710.1,472.2 L709.5,472.4 L708.9,472.7 L708.3,472.9 L707.7,473.1 L707.0,473.3 L706.4,473.5 L705.7,473.8 L705.0,474.0 L704.3,474.2 L703.5,474.5 L702.8,474.7 L702.0,474.9 L701.3,475.2 L700.5,475.4 L699.7,475.7 L698.9,475.9 L698.0,476.1 L697.2,476.4 L696.3,476.6 L695.5,476.9 L694.6,477.1 L693.7,477.3 L692.8,477.6 L691.9,477.8 L691.0,478.1 L690.1,478.3 L689.2,478.6 L688.3,478.8 L687.3,479.1 L686.4,479.4 L685.5,479.6 L684.6,479.8 L683.7,480.1 L682.9,480.3 L682.1,480.5 L681.3,480.7 L680.5,480.9 L679.7,481.1 L678.9,481.3 L678.2,481.4 L677.4,481.6 L676.6,481.8 L675.9,481.9 L675.1,482.1 L674.3,482.2 L673.5,482.4 L672.6,482.5 L671.8,482.7 L670.9,482.8 L670.0,483.0 L669.0,483.1 L668.0,483.3 L667.0,483.4 L665.9,483.6 L664.7,483.8 L663.5,483.9 L662.3,484.1 L661.0,484.3 L659.6,484.4 L658.2,484.6 L656.7,484.8 L655.2,485.0 L653.7,485.2 L652.1,485.4 L650.5,485.6 L648.9,485.8 L647.2,486.0 L645.6,486.2 L643.9,486.4 L642.1,486.6 L640.4,486.8 L638.6,486.9 L636.8,487.1 L634.9,487.3 L633.0,487.5 L631.0,487.7 L629.1,487.9 L627.1,488.1 L625.0,488.3 L622.9,488.4 L620.7,488.6 L618.6,488.8 L616.3,489.0 L614.0,489.1 L611.7,489.3 L609.3,489.4 L606.9,489.6 L604.4,489.8 L601.8,489.9 L599.2,490.0 L596.5,490.2 L593.8,490.3 L590.9,490.5 L587.9,490.6 L584.9,490.8 L581.9,490.9 L578.7,491.1 L575.5,491.3 L572.3,491.4 L569.0,491.6 L565.7,491.7 L562.3,491.8 L558.9,492.0 L555.5,492.1 L552.0,492.2 L548.5,492.4 L545.0,492.5 L541.5,492.6 L538.0,492.7 L534.5,492.8 L531.0,492.8 L527.5,492.9 L524.0,493.0 L520.5,493.0 L517.0,493.1 L513.6,493.1 L510.2,493.1 L506.8,493.1 L503.5,493.0 L500.2,493.0 L496.9,492.9 L493.6,492.9 L490.3,492.8 L486.9,492.7 L483.5,492.5 L480.1,492.4 L476.7,492.2 L473.3,492.1 L469.8,491.9 L466.4,491.7 L462.9,491.5 L459.4,491.3 L456.0,491.1 L452.5,490.9 L449.1,490.6 L445.7,490.4 L442.2,490.1 L438.9,489.9 L435.5,489.7 L432.2,489.4 L428.8,489.2 L425.6,488.9 L422.3,488.7 L419.1,488.4 L416.0,488.2 L412.9,487.9 L409.8,487.7 L406.8,487.5 L403.9,487.3 L401.0,487.1 L398.2,486.9 L395.3,486.7 L392.6,486.5 L389.8,486.3 L387.1,486.1 L384.4,485.9 L381.7,485.7 L379.1,485.5 L376.5,485.4 L374.0,485.2 L371.4,485.0 L369.0,484.8 L366.5,484.6 L364.1,484.5 L361.7,484.3 L359.4,484.1 L357.1,483.9 L354.9,483.7 L352.7,483.5 L350.5,483.3 L348.4,483.1 L346.4,482.9 L344.4,482.8 L342.5,482.6 L340.6,482.3 L338.8,482.1 L337.0,481.9 L335.3,481.7 L333.6,481.5 L332.1,481.3 L330.6,481.1 L329.1,480.9 L327.8,480.7 L326.6,480.5 L325.4,480.2 L324.2,480.0 L323.2,479.8 L322.2,479.6 L321.2,479.4 L320.3,479.2 L319.5,479.1 L318.7,478.9 L317.9,478.7 L317.1,478.5 L316.4,478.3 L315.7,478.1 L315.0,477.9 L314.3,477.6 L313.6,477.4 L312.9,477.1 L312.1,476.9 L311.4,476.6 L310.7,476.3 L309.9,476.0 L309.1,475.6 L308.3,475.3 L307.5,474.9 L306.6,474.5 L305.7,474.1 L304.8,473.7 L303.9,473.4 L303.1,473.1 L302.3,472.8 L301.5,472.5 L300.8,472.2 L300.0,472.0 L299.2,471.7 L298.5,471.4 L297.8,471.1 L297.1,470.8 L296.4,470.6 L295.7,470.3 L295.0,470.0 L294.3,469.7 L293.7,469.4 L293.0,469.2 L292.4,468.9 L291.8,468.6 L291.1,468.4 L290.5,468.1 L289.9,467.8 L289.3,467.5 L288.7,467.3 L288.2,467.0 L287.6,466.7 L287.0,466.4 L286.5,466.2 L285.9,465.9 L285.4,465.6 L284.8,465.3 L284.3,465.1 L283.8,464.8 L283.3,464.6 L282.8,464.3 L282.3,464.0 L281.8,463.7 L281.3,463.4 L280.8,463.1 L280.3,462.7 L279.8,462.4 L279.3,462.0 L278.8,461.6 L278.4,461.2 L277.9,460.9 L277.4,460.4 L277.0,460.0 L276.5,459.6 L276.0,459.2 L275.6,458.7 L275.1,458.3 L274.7,457.8 L274.2,457.4 L273.8,456.9 L273.4,456.4 L272.9,456.0 L272.5,455.5 L272.1,455.0 L271.6,454.5 L271.2,454.0 L270.8,453.5 L270.4,453.0 L270.0,452.6 L269.6,452.1 L269.2,451.7 L268.8,451.3 L268.5,450.9 L268.1,450.5 L267.7,450.1 L267.4,449.7 L267.0,449.3 L266.7,448.9 L266.4,448.5 L266.0,448.2 L265.7,447.8 L265.4,447.4 L265.0,447.0 L264.7,446.7 L264.4,446.3 L264.1,445.9 L263.8,445.5 L263.5,445.2 L263.2,444.8 L262.9,444.4 L262.6,444.0 L262.3,443.5 L262.0,443.1 L261.7,442.7 L261.4,442.2 L261.1,441.8 L260.9,441.3 L260.6,440.7 L260.3,440.1 L260.1,439.6 L259.8,439.1 L259.5,438.6 L259.3,438.1 L259.1,437.6 L258.8,437.2 L258.6,436.7 L258.3,436.3 L258.1,435.9 L257.9,435.4 L257.6,435.0 L257.4,434.6 L257.2,434.1 L257.0,433.6 L256.8,433.1 L256.5,432.6 L256.3,432.1 L256.1,431.5 L255.9,430.9 L255.7,430.3 L255.5,429.6 L255.3,428.9 L255.1,428.1 L254.9,427.3 L254.7,426.5 L254.5,425.6 L254.3,424.7 L254.1,423.7 L253.9,422.6 L253.7,421.5 L253.5,420.3 L253.3,419.0 L253.1,417.7 L252.9,416.3 L252.7,414.9 L252.5,413.4 L252.3,411.9 L252.1,410.4 L251.9,408.8 L251.7,407.2 L251.5,405.6 L251.3,403.9 L251.1,402.3 L250.9,400.6 L250.7,399.0 L250.6,397.4 L250.4,395.7 L250.2,394.1 L250.1,392.5 L249.9,390.9 L249.8,389.3 L249.6,387.8 L249.5,386.3 L249.4,384.9 L249.3,383.4 L249.2,382.1 L249.1,380.8Z" fill="url(#faceH)"/>

<!-- buckle -->
<path d="M781,331.2 L861.4,330.4 Q866.4,330.4 866.2,335.4 L861.8,436 Q861.6,440.8 856.6,441 L774.6,444 Q769.6,444 769.8,439 L776,336.2 Q776.2,331.2 781,331.2 Z M795.8,343.2 L852.2,343 Q855.2,343 855.1,346 L852.1,428.2 Q852,431.2 849,431.2 L790.2,431 Q787.2,431 787.3,428 L792.7,346.2 Q792.8,343.2 795.8,343.2 Z" fill="#e0dfe4" fill-rule="evenodd" stroke="#c9c8cd" stroke-width="1"/>
<defs>
  <linearGradient id="rollG" x1="0" y1="0" x2="1" y2="0">
    <stop offset="0" stop-color="#000" stop-opacity="0.35"/>
    <stop offset="0.08" stop-color="#000" stop-opacity="0.12"/>
    <stop offset="0.3" stop-color="#000" stop-opacity="0.07"/>
    <stop offset="0.8" stop-color="#000" stop-opacity="0.04"/>
    <stop offset="1" stop-color="#000" stop-opacity="0.1"/>
  </linearGradient>
</defs>
<path d="M793.5,345.5 Q822,342.5 851,344.5 L849,427 Q820,433 788.5,428 Z" fill="url(#knit2)"/>
<path d="M793.5,345.5 Q822,342.5 851,344.5 L849,427 Q820,433 788.5,428 Z" fill="url(#rollG)"/>
<path d="M798,346 Q822,343.5 850,345.5" stroke="#c2c1c1" stroke-width="1.2" fill="none"/>
<line x1="849.5" y1="348" x2="847.5" y2="426" stroke="#d2d2d2" stroke-width="1" stroke-dasharray="2 2"/>
<path d="M792,428.8 Q805,430.8 814,430 L814,431.2 L790,431.2 Z" fill="#f2f2f4"/>

<!-- copper panel -->
<path d="M499.2,324.0 C508.9,324.0 518.5,324.5 528.0,325.2 C537.5,325.9 547.7,326.8 556.0,328.2 C564.3,329.6 572.2,331.5 578.0,333.5 C583.8,335.5 586.5,337.2 590.8,340.2 C595.1,343.2 600.7,347.3 604.0,351.6 C607.3,355.9 609.1,360.4 610.5,366.0 C611.9,371.6 612.2,378.8 612.2,385.0 C612.2,391.2 611.9,397.3 610.5,403.0 C609.1,408.7 607.4,414.2 604.0,419.0 C600.6,423.8 597.7,428.0 590.0,431.5 C582.3,435.0 568.3,438.2 558.0,440.2 C547.7,442.2 537.8,442.8 528.0,443.6 C518.2,444.4 508.9,444.8 499.2,444.8 C489.5,444.8 479.9,444.4 470.0,443.6 C460.1,442.8 450.3,442.2 440.0,440.2 C429.7,438.2 415.7,435.0 408.0,431.5 C400.3,428.0 397.4,423.8 394.0,419.0 C390.6,414.2 388.9,408.7 387.5,403.0 C386.1,397.3 385.8,391.2 385.8,385.0 C385.8,378.8 386.1,371.6 387.5,366.0 C388.9,360.4 390.7,355.9 394.0,351.6 C397.3,347.3 402.9,343.2 407.2,340.2 C411.5,337.2 414.2,335.5 420.0,333.5 C425.8,331.5 433.7,329.6 442.0,328.2 C450.3,326.8 460.5,325.9 470.0,325.2 C479.5,324.5 489.5,324.0 499.2,324.0Z" fill="url(#copperG)" stroke="#d8976f" stroke-width="1.3"/>
<path d="M499.2,324.0 C508.9,324.0 518.5,324.5 528.0,325.2 C537.5,325.9 547.7,326.8 556.0,328.2 C564.3,329.6 572.2,331.5 578.0,333.5 C583.8,335.5 586.5,337.2 590.8,340.2 C595.1,343.2 600.7,347.3 604.0,351.6 C607.3,355.9 609.1,360.4 610.5,366.0 C611.9,371.6 612.2,378.8 612.2,385.0 C612.2,391.2 611.9,397.3 610.5,403.0 C609.1,408.7 607.4,414.2 604.0,419.0 C600.6,423.8 597.7,428.0 590.0,431.5 C582.3,435.0 568.3,438.2 558.0,440.2 C547.7,442.2 537.8,442.8 528.0,443.6 C518.2,444.4 508.9,444.8 499.2,444.8 C489.5,444.8 479.9,444.4 470.0,443.6 C460.1,442.8 450.3,442.2 440.0,440.2 C429.7,438.2 415.7,435.0 408.0,431.5 C400.3,428.0 397.4,423.8 394.0,419.0 C390.6,414.2 388.9,408.7 387.5,403.0 C386.1,397.3 385.8,391.2 385.8,385.0 C385.8,378.8 386.1,371.6 387.5,366.0 C388.9,360.4 390.7,355.9 394.0,351.6 C397.3,347.3 402.9,343.2 407.2,340.2 C411.5,337.2 414.2,335.5 420.0,333.5 C425.8,331.5 433.7,329.6 442.0,328.2 C450.3,326.8 460.5,325.9 470.0,325.2 C479.5,324.5 489.5,324.0 499.2,324.0Z" fill="url(#copperH)"/>
<!-- black screen -->
<path d="M499.6,330.6 C509.5,330.6 519.6,331.2 529.2,332.0 C538.8,332.8 550.5,334.3 557.2,335.4 C563.9,336.5 565.8,336.9 569.2,338.5 C572.6,340.1 575.7,342.2 577.7,345.0 C579.7,347.8 581.0,351.7 581.4,355.0 C581.8,358.3 581.1,361.9 580.0,365.0 C578.9,368.1 576.2,371.2 574.7,373.5 C573.2,375.8 571.8,377.1 571.0,378.8 C570.2,380.5 569.8,382.0 569.8,383.6 C569.8,385.2 570.2,386.8 571.0,388.6 C571.8,390.4 573.2,392.1 574.4,394.6 C575.6,397.1 577.5,400.6 578.4,403.5 C579.3,406.4 579.9,409.1 579.9,412.0 C579.9,414.9 579.7,418.2 578.4,421.0 C577.1,423.8 575.4,426.9 572.2,429.0 C569.0,431.1 566.4,432.1 559.2,433.4 C552.0,434.7 539.1,436.2 529.2,437.0 C519.3,437.8 509.5,438.2 499.6,438.2 C489.7,438.2 479.9,437.8 470.0,437.0 C460.1,436.2 447.2,434.7 440.0,433.4 C432.8,432.1 430.2,431.1 427.0,429.0 C423.8,426.9 422.1,423.8 420.8,421.0 C419.5,418.2 419.3,414.9 419.3,412.0 C419.3,409.1 419.9,406.4 420.8,403.5 C421.7,400.6 423.6,397.1 424.8,394.6 C426.0,392.1 427.4,390.4 428.2,388.6 C429.0,386.8 429.4,385.2 429.4,383.6 C429.4,382.0 429.0,380.5 428.2,378.8 C427.4,377.1 426.0,375.8 424.5,373.5 C423.0,371.2 420.3,368.1 419.2,365.0 C418.1,361.9 417.4,358.3 417.8,355.0 C418.2,351.7 419.5,347.8 421.5,345.0 C423.5,342.2 426.6,340.1 430.0,338.5 C433.4,336.9 435.3,336.5 442.0,335.4 C448.7,334.3 460.4,332.8 470.0,332.0 C479.6,331.2 489.7,330.6 499.6,330.6Z" fill="#000"/>

<!-- screen icons -->
<rect x="495.6" y="341.4" width="9.8" height="19.2" rx="4.9" fill="none" stroke="#b0b0b0" stroke-width="1.2"/>
<line x1="500.3" y1="344.5" x2="500.3" y2="354" stroke="#eee" stroke-width="1.1"/>
<circle cx="500.4" cy="355.2" r="2.9" fill="#fff"/>
<line x1="455" y1="384.9" x2="546" y2="384.9" stroke="#e6e6e6" stroke-width="1.5"/>
<g fill="#f6f6f6">
  <path d="M480.4,366.8 Q477.6,369.6 478.6,372.6 Q479.4,374.6 478.6,377 Q481.8,375 481.2,372 Q480.4,369.6 480.4,366.8 Z"/>
  <path d="M501.2,366.6 Q502.6,369 501.6,371.6 Q500.6,373.6 499.6,372.4 Q498.2,370.6 497.8,372.6 Q497.2,376 500,376.6 Q503.6,376.6 503.9,372.6 Q504,369 501.2,366.6 Z"/>
  <path d="M520.6,364.8 Q519.2,367.4 520.8,369.4 Q522,371 521,373 Q519.4,371.6 519.2,373.2 Q519,377.4 522.2,377.6 Q525.4,377.4 525,373.4 Q524.6,370.6 523,369.2 Q523.6,371 522.8,372 Q523.2,369.6 521.8,368.2 Q520.6,367 520.6,364.8 Z"/>
</g>
<g stroke="#f2f2f2" stroke-width="1.6" fill="none" stroke-linecap="round" stroke-linejoin="round">
  <path d="M477.4,398.6 Q478.9,397.4 480.2,398.4 Q481.5,399.4 483,398.2"/>
  <path d="M497.8,397.0 Q499.3,395.8 500.6,396.8 Q501.9,397.8 503.4,396.6"/>
  <path d="M497.8,400.4 Q499.3,399.2 500.6,400.2 Q501.9,401.2 503.4,400.0"/>
  <path d="M518.6,395.2 Q520.1,394.0 521.4,395.0 Q522.7,396.0 524.2,394.8"/>
  <path d="M518.6,398.4 Q520.1,397.2 521.4,398.2 Q522.7,399.2 524.2,398.0"/>
  <path d="M518.6,401.6 Q520.1,400.4 521.4,401.4 Q522.7,402.4 524.2,401.2"/>
  <path d="M487.4,419.2 Q490.6,422.2 495.8,417.4" stroke-width="1.7"/>
  <path d="M504.2,417.4 Q509.4,422.2 512.6,419.2" stroke-width="1.7"/>
  <path d="M497,415.8 Q500,419.2 503,415.8" stroke-width="1.3"/>
  <path d="M496.4,418.4 Q500,421.6 503.6,418.4" stroke-width="1.2"/>
  <path d="M496.4,421.2 Q500,424.4 503.6,421.2" stroke-width="1.5"/>
</g>

<!-- power icon -->
<path d="M405,377.6 A7.6,7.6 0 1 0 412.6,377.6" stroke="#fbfbfb" stroke-width="2.7" fill="none"/>
<!-- right thermometer button -->
<rect x="584.9" y="373.6" width="11" height="20" rx="5.5" fill="#f2dccb" fill-opacity="0.5" stroke="#f6ebdc" stroke-width="1.6"/>
<line x1="588.4" y1="377.5" x2="588.4" y2="389" stroke="#f4e2d2" stroke-width="0.8"/>
<line x1="590.4" y1="376.5" x2="590.4" y2="389" stroke="#f7eadf" stroke-width="0.9"/>
<line x1="592.6" y1="377.5" x2="592.6" y2="389" stroke="#f4e2d2" stroke-width="0.8"/>
<rect x="587" y="387.8" width="6.4" height="2" fill="#fbf3f6"/>

<!-- pink callouts -->
<g stroke="#f06fa1" stroke-width="2">
  <line x1="178" y1="228" x2="178" y2="382"/>
  <line x1="408.3" y1="233" x2="408.3" y2="397"/>
  <line x1="499" y1="176" x2="499" y2="329"/>
  <line x1="591.5" y1="396" x2="591.5" y2="545"/>
  <line x1="785" y1="380" x2="785" y2="471"/>
</g>
<line x1="409.5" y1="376.2" x2="409.5" y2="389" stroke="#fff" stroke-width="1.2"/>
<g fill="#f76c9f">
  <circle cx="178" cy="382" r="8"/>
  <circle cx="408.3" cy="397" r="7.6"/>
  <circle cx="499.3" cy="329" r="7.7"/>
  <circle cx="591.3" cy="396.5" r="7.6"/>
  <circle cx="785.6" cy="380" r="8"/>
</g>

<!-- spec box -->
<rect x="51.5" y="596" width="900.5" height="383" rx="22" fill="#f6b0c6"/>
<g fill="#fff" font-size="29">
<text x="171" y="641" textLength="606" lengthAdjust="spacingAndGlyphs">Product Name: intelligent palace warming belt</text>
<text x="171" y="686" textLength="266" lengthAdjust="spacingAndGlyphs">Charging voltage: 5V</text>
<text x="171" y="731" textLength="235" lengthAdjust="spacingAndGlyphs">Rated power: 10W</text>
<text x="171" y="776" textLength="248" lengthAdjust="spacingAndGlyphs">Rated voltage: 3.7V</text>
<text x="171" y="821" textLength="378" lengthAdjust="spacingAndGlyphs">Product size: 180 * 85 * 25MM</text>
<text x="171" y="866" textLength="396" lengthAdjust="spacingAndGlyphs">Scope of use: abdomen / waist</text>
<text x="171" y="911" textLength="465" lengthAdjust="spacingAndGlyphs">Charging mode: USB cable charging</text>
<text x="171" y="956" textLength="675" lengthAdjust="spacingAndGlyphs">Product material: thickened ABS + deer velvet fabric</text>
</g>
</svg>
</body></html>
